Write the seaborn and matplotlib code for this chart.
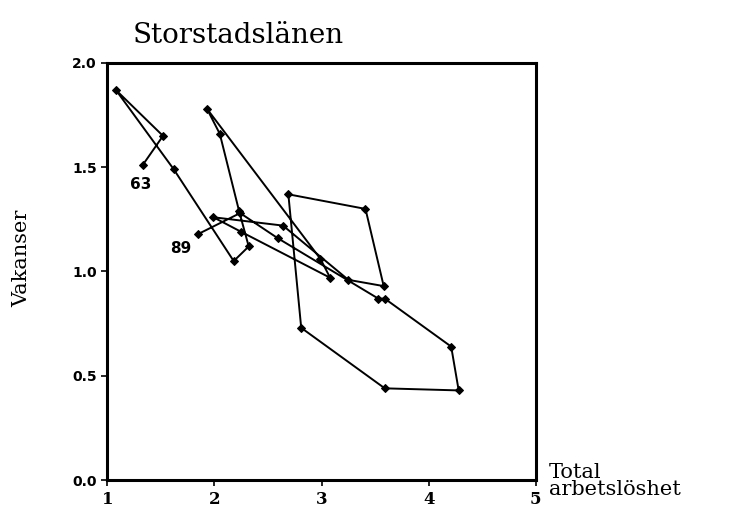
"""Beveridge curve for Storstadslänen, 1963-1989."""

import matplotlib

matplotlib.use("Agg")
import matplotlib.pyplot as plt
import pandas as pd
import seaborn as sns


YEARS = list(range(1963, 1990))
UNEMPLOYMENT = [
    1.33, 1.52, 1.08, 1.62, 2.18, 2.32, 2.23, 2.05, 1.93,
    2.99, 3.08, 2.25, 1.99, 2.64, 3.25, 3.58, 3.41, 2.69,
    2.81, 3.59, 4.28, 4.21, 3.59, 3.53, 2.59, 2.24, 1.85,
]
VACANCIES = [
    1.51, 1.65, 1.87, 1.49, 1.05, 1.12, 1.29, 1.66, 1.78,
    1.06, 0.97, 1.19, 1.26, 1.22, 0.96, 0.93, 1.30, 1.37,
    0.73, 0.44, 0.43, 0.64, 0.87, 0.87, 1.16, 1.28, 1.18,
]
X_TICKS = [1, 2, 3, 4, 5]
Y_TICKS = [0.0, 0.5, 1.0, 1.5, 2.0]

data = pd.DataFrame({"year": YEARS, "arbetsloshet": UNEMPLOYMENT, "vakanser": VACANCIES})

sns.set_style("ticks")
plt.rcParams["font.family"] = ["DejaVu Sans"]
plt.rcParams["text.color"] = "black"
plt.rcParams["xtick.color"] = "black"
plt.rcParams["ytick.color"] = "black"

fig = plt.figure(figsize=(7.35, 5.07), dpi=100)
ax = fig.add_axes([0.146, 0.053, 0.583, 0.823])

sns.lineplot(
    data=data,
    x="arbetsloshet",
    y="vakanser",
    sort=False,
    estimator=None,
    color="black",
    linewidth=1.4,
    marker="D",
    markersize=4,
    markeredgecolor="black",
    ax=ax,
)

first = data.iloc[0]
last = data.iloc[-1]
ax.annotate("63", (first["arbetsloshet"], first["vakanser"]), xytext=(-9, -17),
            textcoords="offset points", fontsize=11, fontweight="bold", color="black")
ax.annotate("89", (last["arbetsloshet"], last["vakanser"]), xytext=(-20, -14),
            textcoords="offset points", fontsize=11, fontweight="bold", color="black")

ax.set_xlim(1, 5)
ax.set_ylim(0, 2)
ax.set_xticks(X_TICKS)
ax.set_yticks(Y_TICKS)
ax.set_xticklabels([str(t) for t in X_TICKS], family="DejaVu Serif", fontsize=12,
                   fontweight="bold")
ax.set_yticklabels([f"{t:.1f}" for t in Y_TICKS], fontweight="bold", fontsize=10)
ax.tick_params(length=4, width=1.2, direction="out", colors="black")
ax.set_xlabel("")
ax.set_ylabel("")
for spine in ax.spines.values():
    spine.set_visible(True)
    spine.set_linewidth(2.2)
    spine.set_color("black")

fig.text(0.181, 0.93, "Storstadslänen", family="DejaVu Serif", fontsize=20, va="center")
fig.text(0.03, 0.49, "Vakanser", family="DejaVu Serif", fontsize=15,
         rotation=90, va="center", ha="center")
fig.text(0.747, 0.052, "Total\narbetslöshet", family="DejaVu Serif", fontsize=15,
         va="center", ha="left", linespacing=0.85)

fig.savefig("out.png", dpi=100)
